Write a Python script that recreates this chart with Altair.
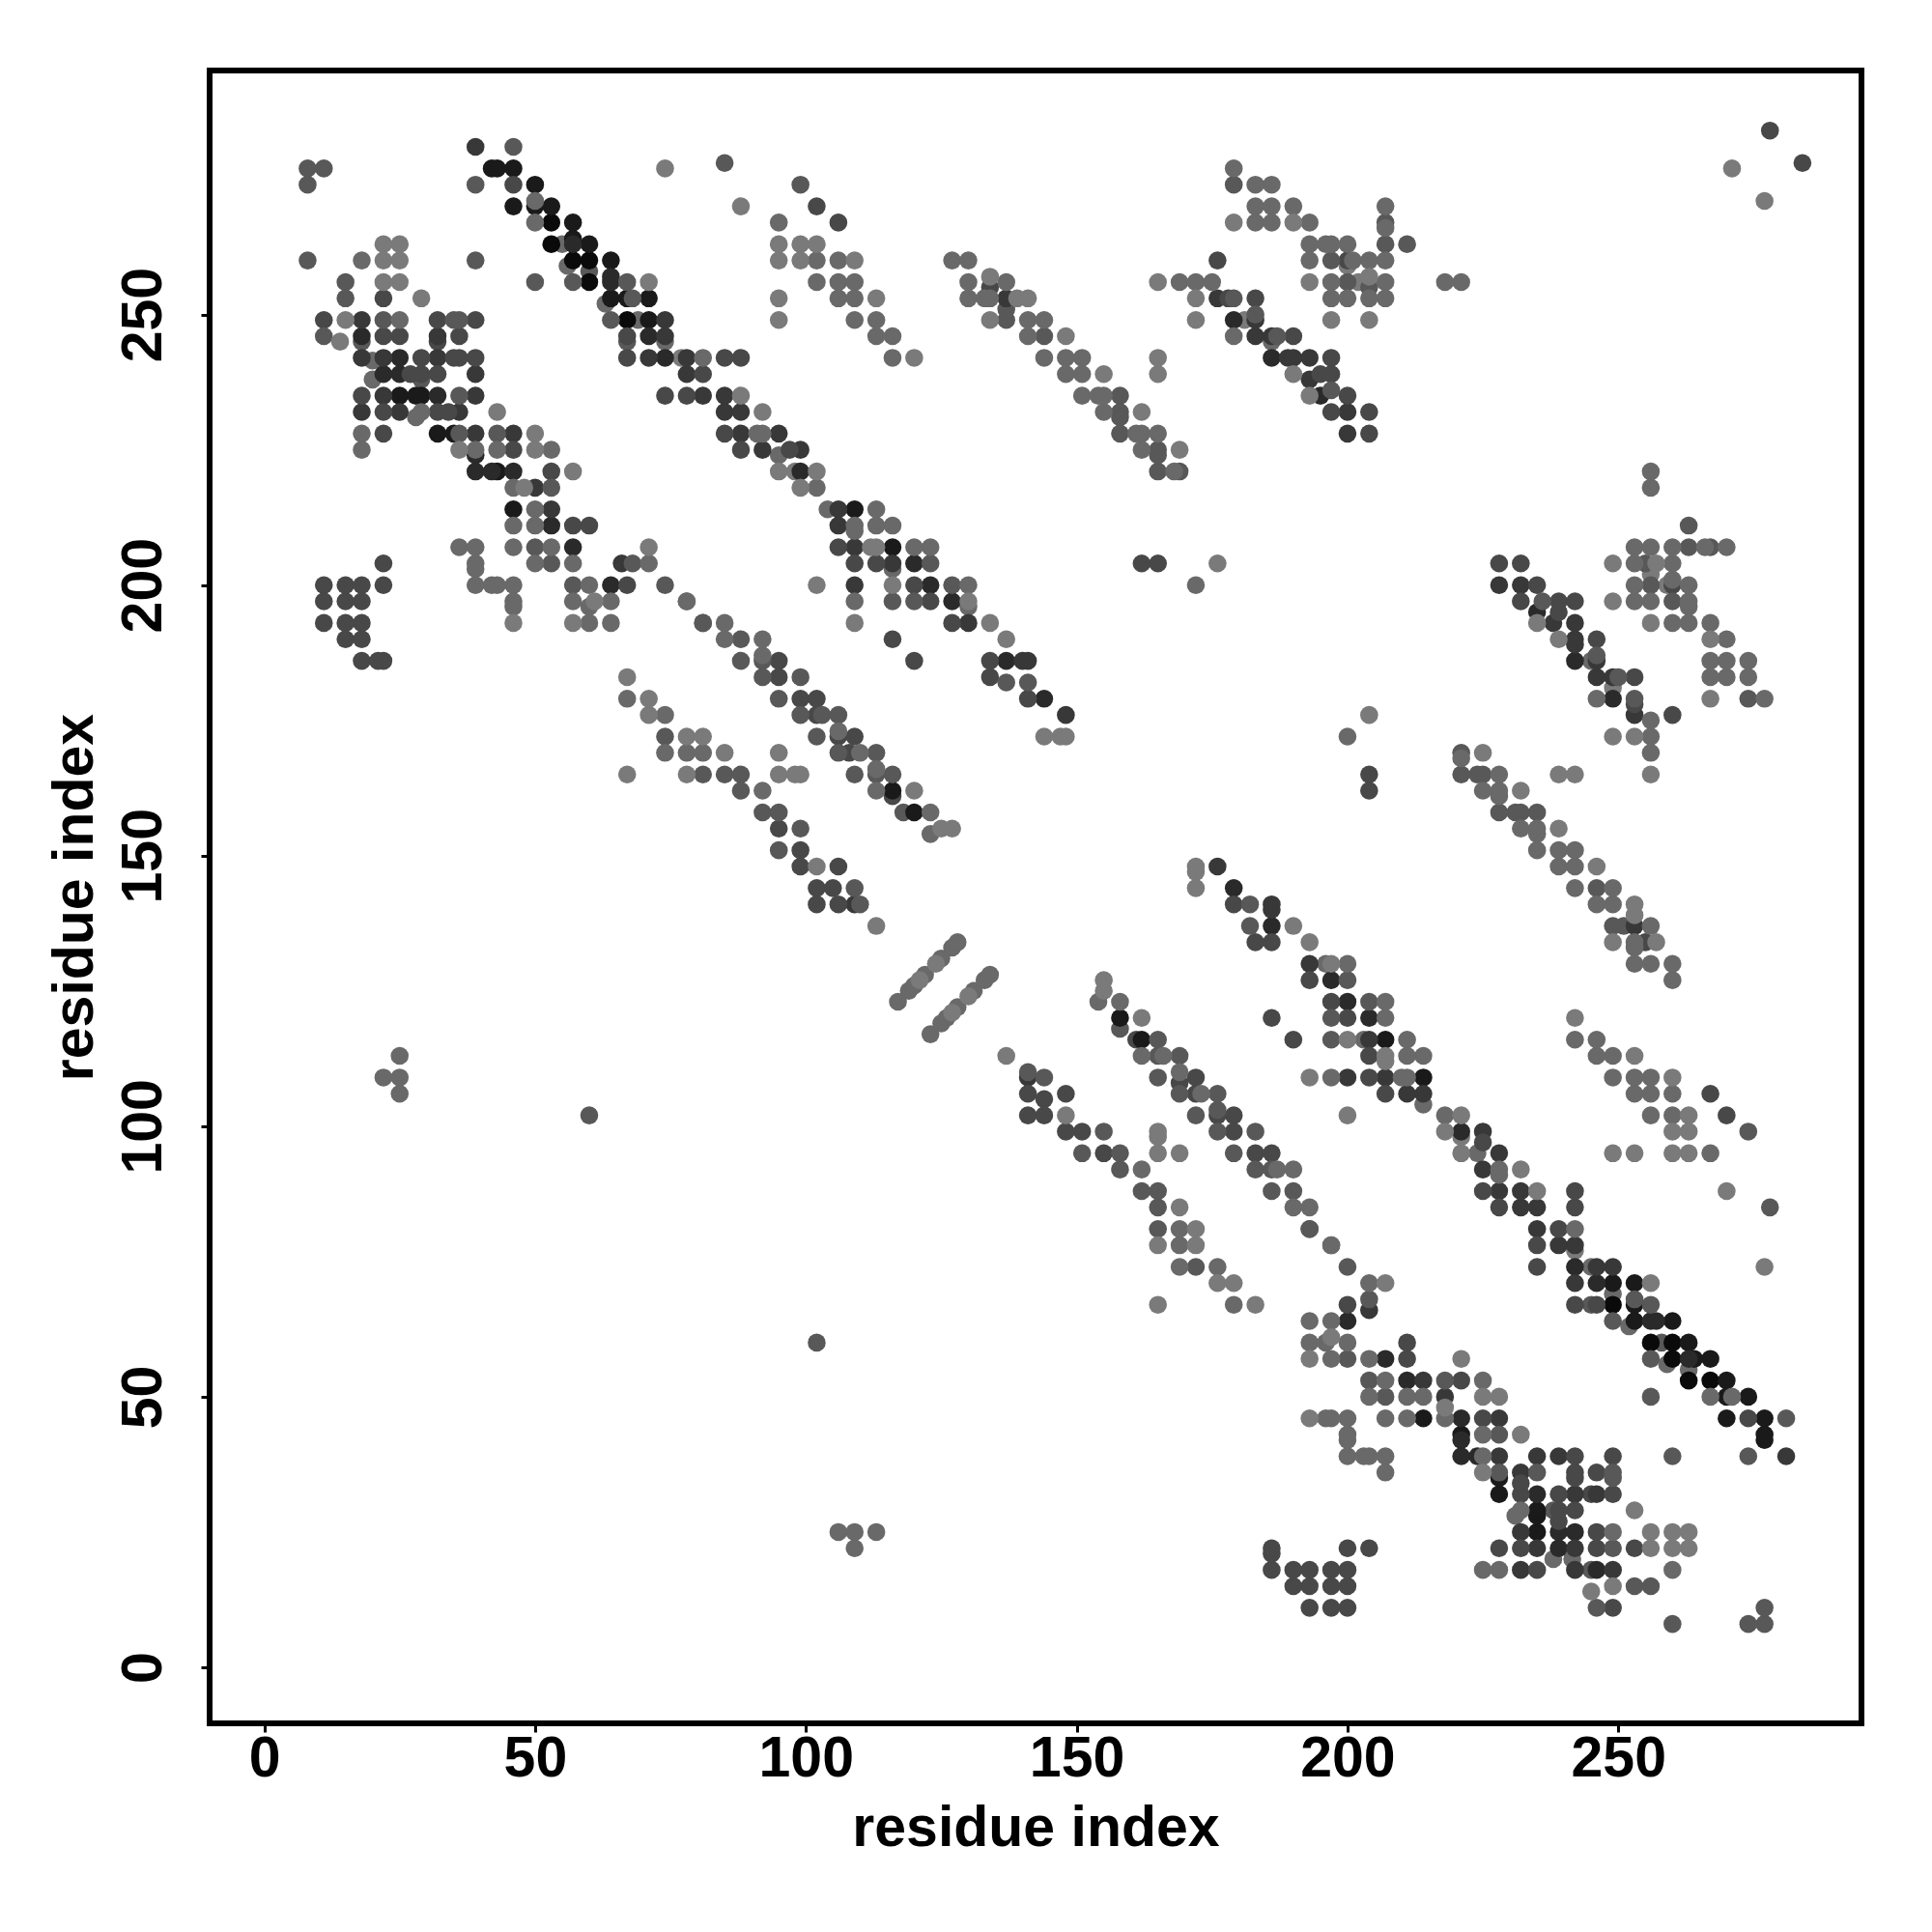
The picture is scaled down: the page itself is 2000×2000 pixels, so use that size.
import altair as alt
import pandas as pd

GREYS = {"A": "#7a7a7a", "B": "#696969", "C": "#585858", "D": "#484848",
         "E": "#383838", "F": "#2a2a2a", "G": "#1a1a1a", "H": "#0a0a0a"}

# contacts with y > x; (residue i, residue j, darkness level); map is symmetric
under = [(55,263,"B"),(56,259,"B"),(60,258,"C"),(63,252,"B"),(69,249,"B"),(18,245,"C"),
         (20,241.5,"B"),(20,238,"B"),(74,245,"B"),(67,245,"C"),(32,245,"D"),(29,238,"C"),
         (77,242,"A"),(28,231,"B"),(39,224,"F"),(104,214,"B"),(116,203,"B"),(130,196,"B"),
         (102,176,"D"),(116,161,"D"),(118,158,"C"),(123,154,"B"),(95,224,"B"),(98,221,"A"),
         (137,251,"C"),(133,253,"B"),(134,255,"D"),(181,249,"A"),(200,259,"A"),(202,256,"A"),
         (186,245,"B")]

top_left = [(39,281,"E"),(46,281,"C"),(8,277,"C"),(11,277,"C"),(42,277,"G"),(43,277,"G"),(46,277,"G"),
    (74,277,"A"),(8,274,"C"),(39,274,"C"),(46,274,"D"),(50,274,"G"),(46,270,"G"),(50,270,"G"),(50,271,"B"),
    (53,270,"G"),(50,267,"B"),(53,267,"H"),(57,267,"G"),(53,263,"H"),(57,263,"F"),(57,264,"G"),(60,263,"G"),
    (22,263,"A"),(25,263,"A"),(8,260,"C"),(18,260,"B"),(22,260,"A"),(25,260,"A"),(39,260,"C"),
    (57,260,"H"),(60,260,"H"),(64,260,"G"),(15,256,"C"),(22,256,"A"),(25,256,"A"),(50,256,"C"),(57,256,"C"),
    (60,256,"H"),(64,256,"F"),(64,257,"F"),(67,256,"C"),(71,256,"A"),(15,253,"C"),(22,253,"D"),(29,253,"A"),
    (64,253,"G"),(67,253,"G"),(68,253,"C"),(71,253,"G"),
    (11,249,"D"),(15,249,"A"),(18,249,"E"),(22,249,"C"),(25,249,"B"),(32,249,"D"),(35,249,"C"),(36,249,"C"),
    (39,249,"D"),(64,249,"C"),(67,249,"H"),(71,249,"G"),(74,249,"E"),
    (11,246,"C"),(14,245,"A"),(18,246,"F"),(22,246,"D"),(25,246,"D"),(32,246,"E"),(36,246,"D"),
    (67,246,"D"),(71,246,"F"),(74,246,"E")]

left_core = [(18,242,"E"),(22,242,"E"),(25,242,"F"),(29,242,"D"),(32,242,"E"),(35,242,"D"),(36,242,"D"),
    (39,242,"D"),(67,242,"D"),(71,242,"E"),(74,242,"F"),(78,242,"E"),(81,242,"B"),
    (22,239,"F"),(25,239,"F"),(27,239,"D"),(29,239,"D"),(32,239,"D"),(39,239,"E"),(78,239,"E"),(81,239,"D"),
    (18,235,"D"),(22,235,"E"),(25,235,"G"),(28,235,"G"),(29,235,"G"),(32,235,"F"),(36,235,"C"),(39,235,"E"),
    (74,235,"D"),(78,235,"D"),(81,235,"E"),
    (18,232,"E"),(22,232,"D"),(25,232,"E"),(29,232,"B"),(32,232,"D"),(34,232,"D"),(36,232,"E"),(43,232,"A"),
    (18,228,"B"),(22,228,"D"),(32,228,"G"),(35,228,"G"),(36,228,"C"),(39,228,"E"),(43,228,"C"),(46,228,"E"),(50,228,"A"),
    (18,225,"B"),(36,225,"A"),(39,225,"B"),(43,225,"B"),(46,225,"D"),(50,225,"A"),(53,225,"B"),
    (39,221,"F"),(42,221,"F"),(43,221,"G"),(46,221,"F"),(53,221,"D"),(57,221,"A"),
    (46,218,"B"),(48,218,"A"),(50,218,"E"),(53,218,"C"),
    (46,214,"G"),(50,214,"B"),(53,214,"E"),(46,211,"B"),(50,211,"B"),(53,211,"F"),(57,211,"D"),(60,211,"D"),
    (36,207,"B"),(39,207,"B"),(46,207,"B"),(50,207,"C"),(53,207,"B"),(57,207,"F"),(71,207,"A")]

mid_left = [(22,204,"D"),(39,204,"B"),(39,203,"B"),(50,204,"B"),(53,204,"C"),(57,204,"B"),(66,204,"E"),(68,204,"C"),(71,204,"B"),
    (11,200,"D"),(15,200,"D"),(18,200,"D"),(22,200,"D"),(39,200,"B"),(42,200,"B"),(43,200,"B"),(46,200,"B"),
    (57,200,"C"),(60,200,"B"),(64,200,"F"),(67,200,"D"),(74,200,"C"),
    (11,197,"D"),(15,197,"D"),(18,197,"D"),(46,197,"B"),(46,196,"B"),(57,197,"B"),(60,196,"B"),(61,197,"A"),(64,197,"B"),(78,197,"B"),
    (11,193,"D"),(15,193,"D"),(18,193,"D"),(46,193,"A"),(57,193,"A"),(60,193,"B"),(64,193,"B"),(81,193,"C"),
    (15,190,"D"),(18,190,"D"),(18,186,"D"),(21,186,"D"),(22,186,"D"),
    (67,183,"A"),(67,179,"B"),(71,179,"A"),(71,176,"A"),(74,176,"B"),(74,172,"C"),(78,172,"A"),(81,172,"A"),
    (74,169,"B"),(78,169,"B"),(81,169,"B"),(67,165,"A"),(78,165,"A"),(81,165,"C"),
    (22,109,"B"),(25,113,"B"),(25,109,"B"),(25,106,"B"),(60,102,"C")]

top_mid = [(85,278,"C"),(99,274,"C"),(88,270,"A"),(102,270,"D"),(95,267,"B"),(106,267,"D"),
    (95,263,"A"),(99,263,"A"),(102,263,"A"),(95,260,"A"),(99,260,"A"),(102,260,"B"),(106,260,"B"),(109,260,"A"),(127,260,"B"),(130,260,"B"),
    (102,256,"B"),(106,256,"B"),(109,256,"B"),(130,256,"B"),(134,257,"A"),(137,256,"B"),
    (95,253,"A"),(106,253,"B"),(109,253,"B"),(113,253,"A"),(130,253,"B"),(134,253,"B"),(137,253,"E"),(139,253,"A"),(141,253,"A"),
    (95,249,"A"),(109,249,"B"),(113,249,"B"),(134,249,"A"),(137,249,"C"),(141,249,"B"),(144,249,"B"),
    (113,246,"B"),(116,246,"B"),(141,246,"B"),(144,246,"C"),(148,246,"A"),
    (85,242,"D"),(88,242,"D"),(116,242,"B"),(120,242,"A"),(144,242,"B"),(148,242,"B"),(151,242,"B"),
    (148,239,"B"),(151,239,"B"),(155,239,"A"),(85,235,"E"),(88,235,"A"),(151,235,"B"),(154,235,"B"),(155,235,"B"),
    (85,232,"E"),(88,232,"E"),(92,232,"A"),(155,232,"B"),(85,228,"D"),(88,228,"E"),(91,228,"B"),(92,228,"B"),(95,228,"E"),
    (88,225,"D"),(92,225,"E"),(97,225,"D"),(99,225,"E"),(95,221,"A"),(99,221,"F"),(102,221,"A"),(99,218,"A"),(102,218,"B")]

centre = [(106,214,"E"),(109,214,"G"),(113,214,"B"),(106,211,"E"),(109,211,"B"),(109,210,"B"),(113,211,"B"),(116,211,"B"),
    (106,207,"D"),(109,207,"E"),(112,207,"A"),(113,207,"A"),(116,207,"G"),(120,207,"B"),(123,207,"B"),
    (109,204,"D"),(113,204,"D"),(116,204,"E"),(120,204,"F"),(123,204,"C"),
    (102,200,"A"),(109,200,"E"),(116,200,"A"),(120,200,"D"),(123,200,"F"),(127,200,"C"),(130,200,"B"),
    (78,197,"B"),(109,197,"B"),(116,197,"C"),(120,197,"C"),(123,197,"D"),(127,197,"F"),(130,197,"A"),
    (81,193,"C"),(85,193,"B"),(109,193,"A"),(127,193,"D"),(130,193,"E"),(134,193,"A"),
    (85,190,"B"),(88,190,"C"),(92,190,"B"),(116,190,"D"),(137,190,"A"),
    (88,186,"C"),(92,186,"C"),(92,187,"B"),(95,186,"D"),(120,186,"D"),(134,186,"D"),(137,186,"F"),(140,186,"E"),(141,186,"E"),
    (92,183,"C"),(95,183,"D"),(99,183,"C"),(134,183,"D"),(137,182,"C"),(141,182,"C"),
    (95,179,"C"),(99,179,"D"),(102,179,"D"),(141,179,"D"),(144,179,"F"),
    (99,176,"C"),(103,176,"C"),(106,176,"C"),(148,176,"E"),
    (102,172,"C"),(106,172,"D"),(106,173,"B"),(109,172,"D"),(144,172,"A"),(147,172,"A"),(148,172,"A"),
    (85,169,"A"),(95,169,"A"),(106,169,"C"),(108,169,"D"),(110,169,"B"),(113,169,"C"),
    (85,165,"C"),(88,165,"C"),(95,165,"A"),(98,165,"A"),(99,165,"A"),(109,165,"C"),(113,165,"C"),(113,166,"B"),(116,165,"C"),
    (88,162,"C"),(92,162,"B"),(113,162,"B"),(116,162,"G"),(120,162,"A"),
    (92,158,"C"),(95,158,"C"),(120,158,"G"),(123,158,"B"),
    (95,155,"D"),(99,155,"C"),(125,155,"A"),(127,155,"A"),(95,151,"C"),(99,151,"D"),
    (99,148,"D"),(102,148,"A"),(106,148,"D"),(102,144,"D"),(105,144,"D"),(109,144,"C"),
    (102,141,"D"),(106,141,"D"),(109,141,"E"),(110,141,"C"),(113,137,"A")]

helix = [(117,123,"B"),(119,125,"B"),(120,126,"B"),(121,127,"A"),(122,128,"B"),(124,130,"A"),(125,131,"B"),(127,133,"B"),(128,134,"B")]

top_right = [(179,277,"B"),(179,274,"C"),(183,274,"B"),(186,274,"B"),(183,270,"B"),(186,270,"B"),(190,270,"B"),(207,270,"B"),
    (179,267,"A"),(183,267,"B"),(186,267,"B"),(190,267,"A"),(193,267,"B"),(207,267,"C"),(207,266,"B"),
    (193,263,"B"),(196,263,"B"),(197,263,"B"),(200,263,"B"),(207,263,"C"),(211,263,"C"),
    (176,260,"D"),(193,260,"B"),(197,260,"C"),(200,260,"D"),(201,260,"B"),(204,260,"B"),(207,260,"B"),
    (165,256,"A"),(169,256,"B"),(172,256,"B"),(175,256,"B"),(193,256,"A"),(197,256,"B"),(200,256,"C"),(204,255,"C"),(204,257,"A"),
    (207,256,"B"),(218,256,"B"),(221,256,"B"),(172,253,"A"),(176,253,"E"),(178,253,"D"),(179,253,"C"),(183,253,"D"),
    (197,253,"B"),(200,253,"B"),(204,253,"B"),(207,253,"B"),(172,249,"A"),(179,249,"F"),(183,249,"E"),(183,250,"C"),(197,249,"A"),(204,249,"A"),
    (179,246,"B"),(183,246,"E"),(186,246,"E"),(187,246,"C"),(190,246,"D"),(165,242,"A"),(186,242,"F"),(189,242,"E"),(190,242,"E"),(193,242,"E"),(197,242,"D"),
    (165,239,"A"),(190,239,"A"),(193,238,"E"),(195,239,"D"),(197,239,"D"),(193,235,"A"),(195,235,"F"),(197,236,"C"),(200,235,"D"),
    (197,232,"D"),(200,232,"E"),(204,232,"D"),(200,228,"E"),(204,228,"D"),
    (158,235,"C"),(158,232,"C"),(158,231,"C"),(162,232,"A"),(158,228,"C"),(161,228,"B"),(162,228,"B"),(165,228,"B"),
    (162,225,"B"),(165,225,"C"),(165,224,"C"),(169,225,"A"),(165,221,"C"),(168,221,"B"),(169,221,"C"),
    (162,204,"D"),(165,204,"D"),(176,204,"A"),(172,200,"B"),(271,277,"A"),(278,284,"D")]

LEVELS = "ABCDEFGH"
rows = []
for seq, group in enumerate([under, top_left + left_core + mid_left + top_mid + centre + helix + top_right]):
    for x, y, g in group:
        rows.append({"x": x, "y": y, "g": GREYS[g], "o": seq * 10 + (7 - LEVELS.index(g))})
        rows.append({"x": y, "y": x, "g": GREYS[g], "o": seq * 10 + (7 - LEVELS.index(g))})
df = pd.DataFrame(rows).sort_values("o", kind="stable")

ticks = [0, 50, 100, 150, 200, 250]
FONT = "Liberation Sans"

chart = alt.Chart(df).mark_circle(size=345, opacity=1).encode(
    x=alt.X("x:Q", scale=alt.Scale(domain=[-10.09, 294.9], nice=False, zero=False),
            axis=alt.Axis(values=ticks, title="residue index", grid=False, domain=False, tickColor="black",
                          tickSize=9, tickWidth=3, labelFont=FONT, labelFontWeight="bold", labelFontSize=59,
                          labelColor="black", labelPadding=-2, labelFlush=False, labelOverlap=False,
                          titleFont=FONT, titleFontWeight="bold", titleFontSize=59, titleColor="black",
                          titlePadding=13)),
    y=alt.Y("y:Q", scale=alt.Scale(domain=[-10.36, 295.1], nice=False, zero=False),
            axis=alt.Axis(values=ticks, title="residue index", grid=False, domain=False, tickColor="black",
                          tickSize=9, tickWidth=3, labelFont=FONT, labelFontWeight="bold", labelFontSize=59,
                          labelColor="black", labelPadding=30, labelAngle=-90, labelAlign="center",
                          labelBaseline="bottom", labelFlush=False, labelOverlap=False,
                          titleFont=FONT, titleFontWeight="bold", titleFontSize=59, titleColor="black",
                          titlePadding=12)),
    color=alt.Color("g:N", scale=None, legend=None),
    order=alt.Order("o:Q"),
).properties(
    width=1710, height=1711, autosize="none",
    padding={"left": 209, "top": 65, "right": 40, "bottom": 200},
    background="white",
).configure_view(stroke="black", strokeWidth=6, fill="white")

chart.save("out.html", embed_options={"renderer": "svg", "actions": False})
